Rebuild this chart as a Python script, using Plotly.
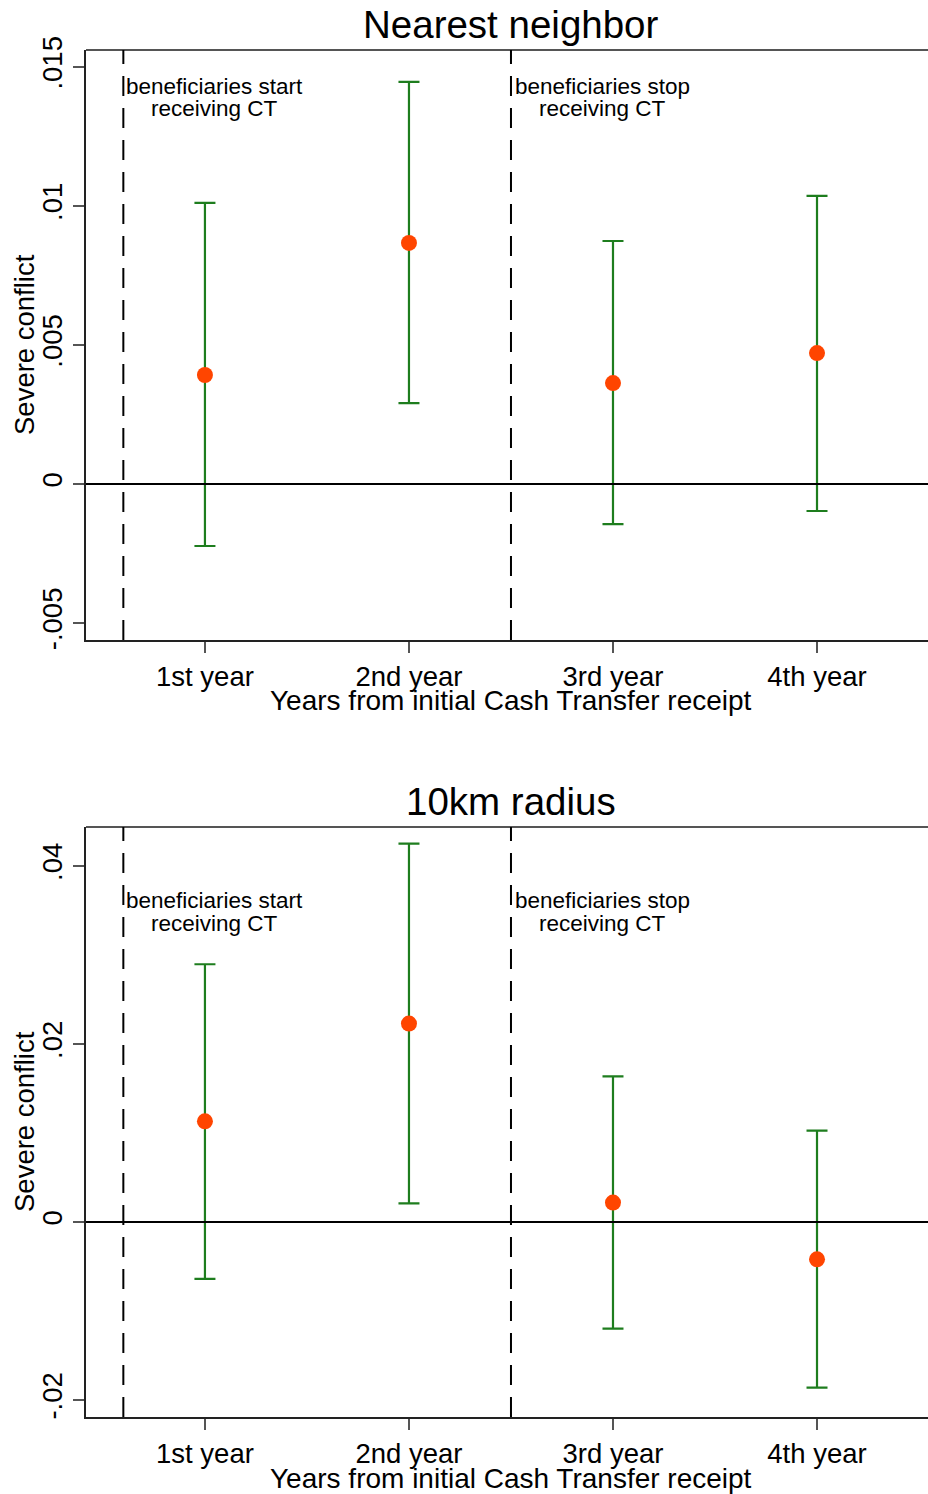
import plotly.graph_objects as go

# ---------------- data ----------------
years = ["1st year", "2nd year", "3rd year", "4th year"]
period = [1, 2, 3, 4]

nn_coef = [0.00392, 0.00867, 0.00363, 0.00471]
nn_upper = [0.01011, 0.01446, 0.00874, 0.01036]
nn_lower = [-0.00223, 0.00291, -0.00144, -0.00097]

r10_coef = [0.01131, 0.02229, 0.00218, -0.00419]
r10_upper = [0.02896, 0.04252, 0.01637, 0.01027]
r10_lower = [-0.0064, 0.0021, -0.01198, -0.01861]

nn_ticks = [-0.005, 0, 0.005, 0.01, 0.015]
nn_ticktext = ["-.005", "0", ".005", ".01", ".015"]
r10_ticks = [-0.02, 0, 0.02, 0.04]
r10_ticktext = ["-.02", "0", ".02", ".04"]

event_x = [0.6, 2.5]
event_labels = [("beneficiaries start", "receiving CT"), ("beneficiaries stop", "receiving CT")]

panel_titles = ["Nearest neighbor", "10km radius"]
x_title = "Years from initial Cash Transfer receipt"
y_title = "Severe conflict"

# ---------------- style ----------------
W, H = 928, 1494
FONT = "Arial, 'Liberation Sans', sans-serif"
GREEN = "#1e7d1e"
ORANGE = "#ff4500"
AXC = "#222222"


def py(px):
    return (H - px) / H


fig = go.Figure()

panels = [
    dict(coef=nn_coef, up=nn_upper, lo=nn_lower, xa="x", ya="y",
         ticks=nn_ticks, tt=nn_ticktext, yr=[-0.00561, 0.01561],
         dom=[py(640), py(50)], title_y=25, lab_y=(86, 108),
         xt_y=701),
    dict(coef=r10_coef, up=r10_upper, lo=r10_lower, xa="x2", ya="y2",
         ticks=r10_ticks, tt=r10_ticktext, yr=[-0.02191, 0.04438],
         dom=[py(1417), py(827)], title_y=801, lab_y=(901, 923),
         xt_y=1478),
]

annotations = []
shapes = []
for i, p in enumerate(panels):
    fig.add_trace(go.Scatter(
        x=period, y=p["coef"], mode="markers", xaxis=p["xa"], yaxis=p["ya"],
        marker=dict(color=ORANGE, size=16),
        error_y=dict(type="data", symmetric=False,
                     array=[u - c for u, c in zip(p["up"], p["coef"])],
                     arrayminus=[c - l for c, l in zip(p["coef"], p["lo"])],
                     color=GREEN, thickness=2.2, width=10.5),
        showlegend=False, hoverinfo="skip"))
    xref = p["xa"]
    yref = p["ya"]
    # top border
    shapes.append(dict(type="line", xref=f"{xref} domain", yref=f"{yref} domain",
                       x0=0, x1=1, y0=1, y1=1, line=dict(color="#555555", width=2)))
    # zero line
    shapes.append(dict(type="line", xref=f"{xref} domain", yref=yref,
                       x0=0, x1=1, y0=0, y1=0, line=dict(color="black", width=2.2)))
    # event lines
    for ex, (l1, l2) in zip(event_x, event_labels):
        shapes.append(dict(type="line", xref=xref, yref=f"{yref} domain",
                           x0=ex, x1=ex, y0=0, y1=1,
                           line=dict(color="black", width=2, dash="20px,12px")))
        for txt, yy in zip((l1, l2), p["lab_y"]):
            annotations.append(dict(text=txt, x=ex, xref=xref, xshift=91.5,
                                    xanchor="center", y=py(yy), yref="paper",
                                    yanchor="middle", showarrow=False,
                                    font=dict(size=22.5, color="black", family=FONT)))
    # panel title
    annotations.append(dict(text=panel_titles[i], x=511 / W, xref="paper",
                            y=py(p["title_y"]), yref="paper", xanchor="center",
                            yanchor="middle", showarrow=False,
                            font=dict(size=38.5, color="black", family=FONT)))
    # x title
    annotations.append(dict(text=x_title, x=511 / W, xref="paper",
                            y=py(p["xt_y"]), yref="paper", xanchor="center",
                            yanchor="middle", showarrow=False,
                            font=dict(size=28, color="black", family=FONT)))
    # y title
    annotations.append(dict(text=y_title, x=24 / W, xref="paper",
                            y=(p["dom"][0] + p["dom"][1]) / 2, yref="paper",
                            xanchor="center", yanchor="middle", textangle=-90,
                            showarrow=False,
                            font=dict(size=27.5, color="black", family=FONT)))

axis_common_x = dict(range=[0.417, 4.544], tickvals=period, ticktext=years,
                     showgrid=False, zeroline=False, showline=True,
                     linecolor=AXC, linewidth=2, ticks="outside", ticklen=11,
                     tickwidth=2, tickcolor="#555555",
                     tickfont=dict(size=27.5, color="black", family=FONT),
                     domain=[86 / W, 1], fixedrange=True)

layout = dict(width=W, height=H, paper_bgcolor="white", plot_bgcolor="white",
              margin=dict(l=0, r=0, t=0, b=0, autoexpand=False),
              annotations=annotations, shapes=shapes, showlegend=False)

for i, p in enumerate(panels):
    sx = "" if i == 0 else str(i + 1)
    layout[f"xaxis{sx}"] = dict(axis_common_x, anchor=p["ya"])
    layout[f"yaxis{sx}"] = dict(range=p["yr"], tickvals=p["ticks"], ticktext=p["tt"],
                                domain=p["dom"], anchor=p["xa"], showgrid=False,
                                zeroline=False, showline=True, linecolor=AXC,
                                linewidth=2, ticks="outside", ticklen=11, tickwidth=2,
                                tickcolor="#555555", tickangle=-90,
                                tickfont=dict(size=27.5, color="black", family=FONT),
                                fixedrange=True)

fig.update_layout(**layout)
fig.write_html("out.html", config={"displayModeBar": False},
               post_script="document.body.style.margin='0';document.body.style.overflow='hidden';")
